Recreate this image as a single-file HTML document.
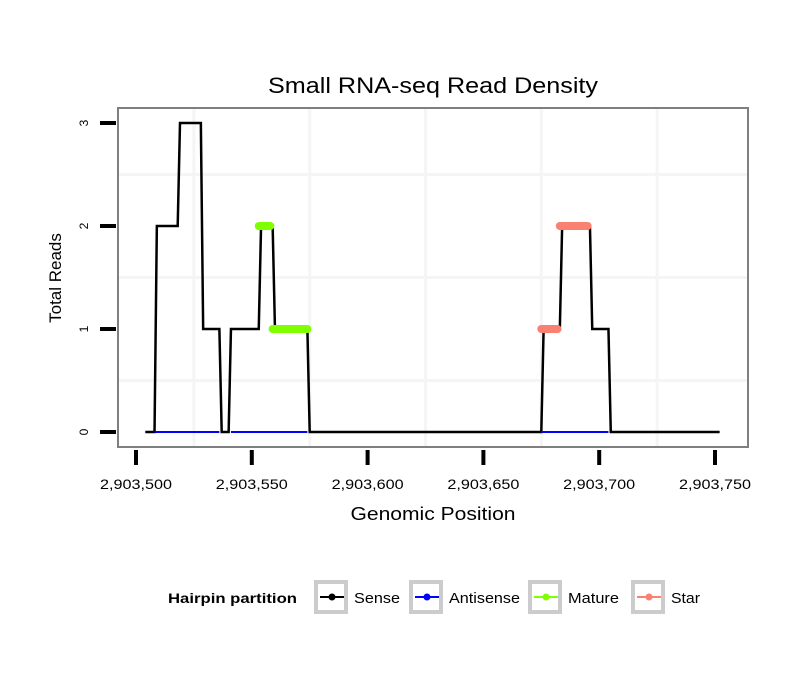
<!DOCTYPE html>
<html><head><meta charset="utf-8"><style>
body{margin:0;background:#fff}
svg{display:block;font-family:"Liberation Sans",sans-serif}
</style></head><body>
<svg id="chart" width="810" height="690">
<text x="433" y="93" text-anchor="middle" font-size="22" textLength="330" lengthAdjust="spacingAndGlyphs">Small RNA-seq Read Density</text>
<rect x="118" y="108" width="630" height="339" fill="#fff" stroke="#7f7f7f" stroke-width="2"/>
<g id="grid"></g>
<g id="axes"></g>
<g id="series"></g>
<text x="433" y="520" text-anchor="middle" font-size="18" textLength="165" lengthAdjust="spacingAndGlyphs">Genomic Position</text>
<text transform="translate(61,278) rotate(-90)" text-anchor="middle" font-size="17">Total Reads</text>
<g>
<text x="168" y="603" font-size="14" font-weight="bold" textLength="129" lengthAdjust="spacingAndGlyphs">Hairpin partition</text>
<g id="legend"></g>
</g>
</svg>
<script>
const xTicks=[2903500,2903550,2903600,2903650,2903700,2903750];
const xTickLabels=["2,903,500","2,903,550","2,903,600","2,903,650","2,903,700","2,903,750"];
const yTicks=[0,1,2,3];
const sensePos=[2903504,2903508,2903509,2903518,2903519,2903528,2903529,2903536,2903537,2903540,2903541,2903553,2903554,2903559,2903560,2903574,2903575,2903675,2903676,2903683,2903684,2903696,2903697,2903704,2903705,2903752];
const senseVal=[0,0,2,2,3,3,1,1,0,0,1,1,2,2,1,1,0,0,1,1,2,2,1,1,0,0];
const antiStart=[2903508,2903541,2903675];
const antiEnd=[2903536,2903574,2903704];
const matureStart=[2903553,2903559];
const matureEnd=[2903558,2903574];
const matureVal=[2,1];
const starStart=[2903675,2903683];
const starEnd=[2903682,2903695];
const starVal=[1,2];
const legendNames=["Sense","Antisense","Mature","Star"];
const legendColors=["#000000","#0000ff","#7fff00","#fa8072"];

const NS="http://www.w3.org/2000/svg";
const X=v=>136+(v-2903500)*2.316;
const Y=v=>432-v*103;
function mk(tag,attrs,parent){const e=document.createElementNS(NS,tag);for(const k in attrs)e.setAttribute(k,attrs[k]);parent.appendChild(e);return e;}
const grid=document.getElementById('grid'),axes=document.getElementById('axes'),ser=document.getElementById('series'),leg=document.getElementById('legend');
for(let i=0;i<xTicks.length;i++){
  const px=X(xTicks[i]+25);if(px>119&&px<747){const l=mk('line',{x1:px,x2:px,y1:109,y2:446,stroke:'#f5f5f5','stroke-width':3},grid);
  
  }
}
for(const v of [0.5,1.5,2.5]){const l=mk('line',{x1:119,x2:747,y1:Y(v),y2:Y(v),stroke:'#f5f5f5','stroke-width':3},grid);

}
xTicks.forEach((v,i)=>{const px=X(v);
 const t=mk('line',{x1:px,x2:px,y1:450,y2:465,stroke:'#000','stroke-width':4},axes);
 
 
 const tx=mk('text',{x:px,y:489,'text-anchor':'middle','font-size':13.5,textLength:72,lengthAdjust:'spacingAndGlyphs'},axes);tx.textContent=xTickLabels[i];
 
 
});
yTicks.forEach(v=>{const py=Y(v);
 const t=mk('line',{x1:100,x2:116,y1:py,y2:py,stroke:'#000','stroke-width':4},axes);
 
 
 const tx=mk('text',{transform:`translate(88,${py}) rotate(-90)`,'text-anchor':'middle','font-size':12},axes);tx.textContent=v;
 
 
});
const sp=mk('polyline',{points:sensePos.map((p,i)=>X(p)+','+Y(senseVal[i])).join(' '),fill:'none',stroke:'#000','stroke-width':2.5},ser);


antiStart.forEach((s,i)=>{const l=mk('line',{x1:X(s),x2:X(antiEnd[i]),y1:Y(0),y2:Y(0),stroke:'#0000ff','stroke-width':2},ser);
 
 });
matureStart.forEach((s,i)=>{const l=mk('line',{x1:X(s),x2:X(matureEnd[i]),y1:Y(matureVal[i]),y2:Y(matureVal[i]),stroke:'#7fff00','stroke-width':8,'stroke-linecap':'round'},ser);
 
 });
starStart.forEach((s,i)=>{const l=mk('line',{x1:X(s),x2:X(starEnd[i]),y1:Y(starVal[i]),y2:Y(starVal[i]),stroke:'#fa8072','stroke-width':8,'stroke-linecap':'round'},ser);
 
 });
const boxX=[314,409,528,631];
const textW=[46,71,51,29];
legendNames.forEach((n,i)=>{const g=mk('g',{},leg);
 
 
 mk('rect',{x:boxX[i]+2,y:582,width:30,height:30,fill:'#fff',stroke:'#cccccc','stroke-width':4},g);
 mk('line',{x1:boxX[i]+6,x2:boxX[i]+30,y1:597,y2:597,stroke:legendColors[i],'stroke-width':2},g);
 mk('circle',{cx:boxX[i]+18,cy:597,r:3.5,fill:legendColors[i]},g);
 const t=mk('text',{x:boxX[i]+40,y:603,'font-size':15,textLength:textW[i],lengthAdjust:'spacingAndGlyphs'},g);t.textContent=n;
});
</script>
</body></html>
